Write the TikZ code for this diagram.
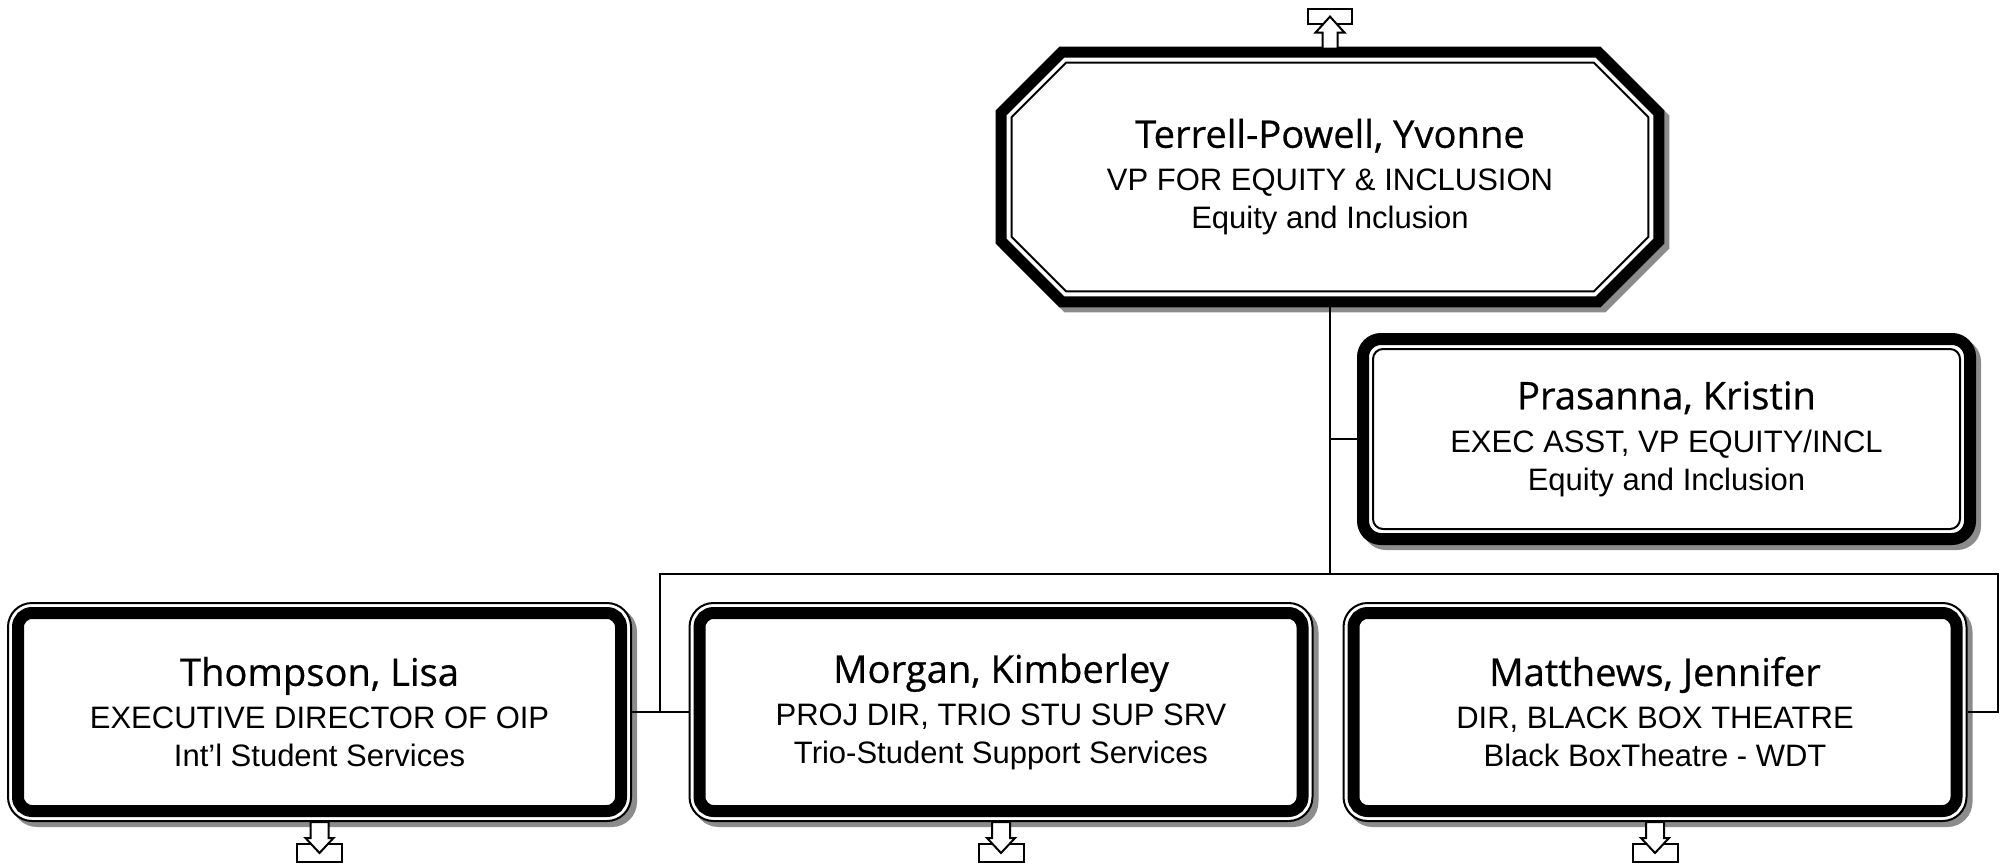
\documentclass[tikz,border=0pt]{standalone}
\usepackage{fontspec}
\setmainfont{Liberation Sans}
\newfontfamily\namefont{Open Sans}[Scale=1.23,FakeBold=0.6]
\usetikzlibrary{shadows,backgrounds,calc}

\begin{document}
\begin{tikzpicture}[x=0.5pt,y=-0.5pt,
  every node/.style={inner sep=0pt,align=center,font=\fontsize{15.5}{19}\selectfont},
  link/.style={line width=1pt},
  boxshadow/.style={drop shadow={shadow xshift=2.5pt,shadow yshift=-2.5pt,fill=black!45,draw=black!45,opacity=1}},
  vpbox/.style={minimum width=334pt,minimum height=130pt},
  vpshade/.style={draw=none,fill=black!45},
  vpband/.style={draw,line width=5.5pt,fill=white,line join=miter},
  vpthin/.style={draw,line width=1pt,line join=miter},
  staffbox/.style={draw,fill=white,line width=6pt,rounded corners=9pt,minimum width=303.5pt,minimum height=100pt,boxshadow},
  staffin/.style={draw,line width=1pt,rounded corners=5pt,minimum width=293.5pt,minimum height=90pt},
  unitbox/.style={draw,fill=white,line width=1pt,rounded corners=12pt,minimum width=311.5pt,minimum height=109pt,boxshadow},
  unitin/.style={draw,line width=6pt,rounded corners=7pt,minimum width=301.5pt,minimum height=99pt},
  pagebox/.style={draw,line width=1pt,fill=white},
  pagearrow/.style={draw,line width=1pt,fill=white,line join=miter}]
\useasboundingbox (0,0) rectangle (2007,866);

% vice president
\node[vpbox] (vp) at (1330,177) {{\namefont Terrell-Powell, Yvonne}\\[2.5pt]VP FOR EQUITY \& INCLUSION\\Equity and Inclusion};
\begin{scope}[on background layer]
\foreach \d/\c/\o/\s in {0/64/5/vpshade,5.5/60.8/0/vpband,16/54.6/0/vpthin}{
\draw[\s] ([shift={(\d+\c+\o,\d+\o)}]vp.north west) -- ([shift={(-\d-\c+\o,\d+\o)}]vp.north east)
  -- ([shift={(-\d+\o,\d+\c+\o)}]vp.north east) -- ([shift={(-\d+\o,-\d-\c+\o)}]vp.south east)
  -- ([shift={(-\d-\c+\o,-\d+\o)}]vp.south east) -- ([shift={(\d+\c+\o,-\d+\o)}]vp.south west)
  -- ([shift={(\d+\o,-\d-\c+\o)}]vp.south west) -- ([shift={(\d+\o,\d+\c+\o)}]vp.north west) -- cycle;
}
\end{scope}
\node[pagebox,minimum width=22pt,minimum height=7.5pt] (vp-up) at ([yshift=15.25pt]vp.north) {};
\draw[pagearrow] ([shift={(-7.5,2)}]vp.north) -- ([shift={(-7.5,-14)}]vp.north) -- ([shift={(-14.5,-14)}]vp.north)
  -- ([shift={(0,-30)}]vp.north) -- ([shift={(14.5,-14)}]vp.north) -- ([shift={(7.5,-14)}]vp.north)
  -- ([shift={(7.5,2)}]vp.north) -- cycle;

% assistant
\node[staffbox] (prasanna) at (1666.5,439) {{\namefont Prasanna, Kristin}\\[2.5pt]EXEC ASST, VP EQUITY/INCL\\Equity and Inclusion};
\node[staffin] (prasanna-in) at (prasanna) {};

% units
\node[unitbox] (thompson) at (319.5,712) {{\namefont Thompson, Lisa}\\[2.5pt]EXECUTIVE DIRECTOR OF OIP\\Int’l Student Services};
\node[unitbox] (morgan) at (1001,712) {{\namefont Morgan, Kimberley}\\[2.5pt]PROJ DIR, TRIO STU SUP SRV\\Trio-Student Support Services};
\node[unitbox] (matthews) at (1655,712) {{\namefont Matthews, Jennifer}\\[2.5pt]DIR, BLACK BOX THEATRE\\Black BoxTheatre - WDT};
\foreach \b in {thompson,morgan,matthews}{
\node[unitin] (\b-in) at (\b) {};
\node[pagebox,minimum width=22.5pt,minimum height=9pt] (\b-dn) at ([yshift=-15.5pt]\b.south) {};
\draw[pagearrow] ([shift={(-9,0)}]\b.south) -- ([shift={(-9,16)}]\b.south) -- ([shift={(-14,16)}]\b.south)
  -- ([shift={(0,31)}]\b.south) -- ([shift={(14,16)}]\b.south) -- ([shift={(9,16)}]\b.south)
  -- ([shift={(9,0)}]\b.south) -- cycle;
}

% connectors
\coordinate (hub) at ([yshift=-133.5pt]vp.south);
\coordinate (tm) at ($(thompson.east)!.5!(morgan.west)$);
\coordinate (mt) at ([xshift=15pt]matthews.east);
\draw[link] (vp.south) -- (hub);
\draw[link] (prasanna.west) -- (prasanna.west -| vp.south);
\draw[link] (hub) -| (tm);
\draw[link] (thompson.east) -- (morgan.west);
\draw[link] (hub) -| (mt) -- (matthews.east);
\end{tikzpicture}
\end{document}
